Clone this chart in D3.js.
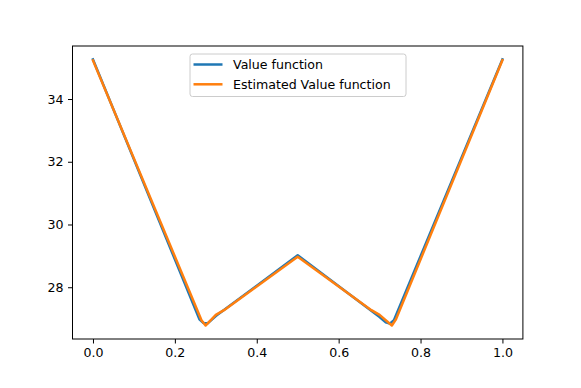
<!DOCTYPE html>
<html lang="en">
	<head>
		<meta charset="utf-8">
		<title>Value function</title>
		<script src="https://d3js.org/d3.v7.min.js"></script>
		<style>
			body { margin: 0; background: #fff; }
			text { font-family: "DejaVu Sans", sans-serif; }
		</style>
	</head>
	<body>
		<script type="text/javascript">

			// size of svg
			var w = 581;
			var h = 388;

			// data
			var xTrue = [0.0, 0.26, 0.27, 0.28, 0.30, 0.5, 0.70, 0.715, 0.725, 0.735, 1.0];
			var yTrue = [35.26, 26.98, 26.86, 26.85, 27.08, 29.02, 27.05, 26.88, 26.84, 26.95, 35.26];
			var xEst = [0.0, 0.265, 0.275, 0.30, 0.32, 0.5, 0.68, 0.70, 0.73, 0.74, 1.0];
			var yEst = [35.23, 26.95, 26.78, 27.12, 27.27, 28.97, 27.27, 27.12, 26.78, 26.98, 35.24];
			var xTicks = [0.0, 0.2, 0.4, 0.6, 0.8, 1.0];
			var yTicks = [28, 30, 32, 34];
			var seriesNames = ["Value function", "Estimated Value function"];
			var colors = ["#1f77b4", "#ff7f0e"];

			// plot box (note: "top" is taken by window.top)
			var plotL = 72.5, plotR = 522.9, plotT = 46, plotB = 339;

			var xScale = d3.scaleLinear().domain([-0.05, 1.05]).range([plotL, plotR]);
			var yScale = d3.scaleLinear().domain([26.35, 35.69]).range([plotB, plotT]);

			var svg = d3.select("body").append("svg").attr("width", w).attr("height", h);

			// axes
			var xAxis = d3.axisBottom(xScale).tickValues(xTicks).tickFormat(d3.format(".1f")).tickSize(4.5).tickPadding(4.5);
			var yAxis = d3.axisLeft(yScale).tickValues(yTicks).tickFormat(d3.format("d")).tickSize(4.5).tickPadding(4.5);

			var gx = svg.append("g").attr("transform", "translate(0," + plotB + ")").call(xAxis);
			var gy = svg.append("g").attr("transform", "translate(" + plotL + ",0)").call(yAxis);
			[gx, gy].forEach(function(g) {
				g.select(".domain").remove();
				g.selectAll("text").attr("font-size", "12.6px").attr("fill", "#000").attr("font-family", "DejaVu Sans");
				g.selectAll("line").attr("stroke", "#000").attr("stroke-width", 1);
			});

			// lines
			var series = [
				xTrue.map(function(x, i) { return [x, yTrue[i]]; }),
				xEst.map(function(x, i) { return [x, yEst[i]]; })
			];
			var line = d3.line()
				.x(function(d) { return xScale(d[0]); })
				.y(function(d) { return yScale(d[1]); });

			svg.selectAll("path.series")
				.data(series)
				.enter()
				.append("path")
				.attr("class", "series")
				.attr("d", line)
				.attr("fill", "none")
				.attr("stroke", function(d, i) { return colors[i]; })
				.attr("stroke-width", 2.5)
				.attr("stroke-linejoin", "round")
				.attr("stroke-linecap", "square");

			// frame
			svg.append("rect")
				.attr("x", plotL).attr("y", plotT)
				.attr("width", plotR - plotL).attr("height", plotB - plotT)
				.attr("fill", "none").attr("stroke", "#000").attr("stroke-width", 1);

			// legend
			var legend = svg.append("g").attr("transform", "translate(190,54)");
			legend.append("rect")
				.attr("x", 0).attr("y", 0).attr("width", 216).attr("height", 42.5).attr("rx", 2.5)
				.attr("fill", "#fff").attr("fill-opacity", 0.8)
				.attr("stroke", "#ccc").attr("stroke-width", 1);
			var items = legend.selectAll("g.item")
				.data(seriesNames)
				.enter()
				.append("g")
				.attr("class", "item")
				.attr("transform", function(d, i) { return "translate(0," + (10.5 + i * 19.8) + ")"; });
			items.append("line")
				.attr("x1", 3.5).attr("x2", 32.5)
				.attr("stroke", function(d, i) { return colors[i]; })
				.attr("stroke-width", 2.5);
			items.append("text")
				.attr("x", 43).attr("dy", "0.36em")
				.attr("font-size", "12.6px").attr("fill", "#000")
				.text(function(d) { return d; });

		</script>
	</body>
</html>
